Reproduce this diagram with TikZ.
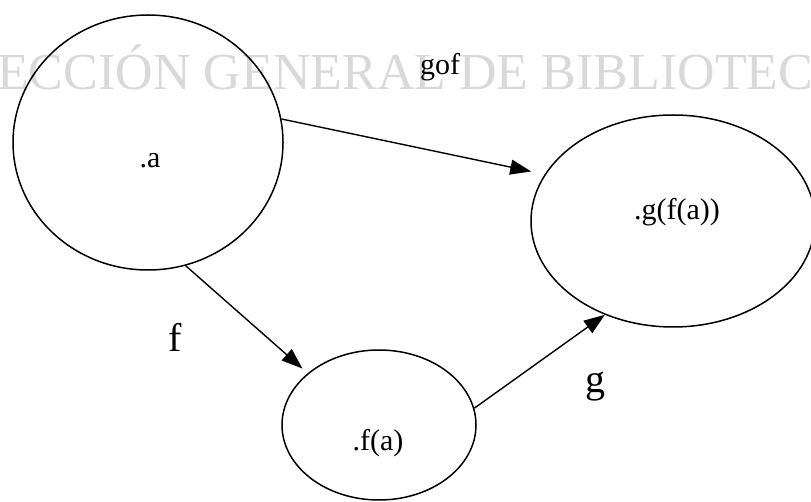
\documentclass[tikz,border=0pt]{standalone}
\usepackage{fontspec}
\setmainfont{Liberation Serif}
\usetikzlibrary{shapes.geometric,arrows.meta}
\definecolor{wmgray}{HTML}{D9D9D9}
\tikzset{
  setnode/.style={draw=black, line width=1.5pt, ellipse, inner sep=0pt},
  maparrow/.style={draw=black, line width=1.4pt, -{Triangle[length=21pt,width=15pt]}},
  elemlabel/.style={anchor=base, inner sep=0pt, font=\fontsize{30}{30}\selectfont},
  funclabel/.style={anchor=base, inner sep=0pt, font=\fontsize{40}{40}\selectfont},
  watermark/.style={anchor=base west, inner sep=0pt, text=wmgray, font=\fontsize{52}{52}\selectfont}
}
\begin{document}
\begin{tikzpicture}[x=1pt, y=-1pt]
\useasboundingbox (0,0) rectangle (811,502);
\fill[white] (0,0) rectangle (811,502);
% watermark
\node[watermark] (wm) at (-3,90) {ECCIÓN GENERAL DE BIBLIOTEC};
% sets
\node[setnode, minimum width=270pt, minimum height=255pt] (a) at (148,142.5) {};
\node[setnode, minimum width=284pt, minimum height=212pt] (gfa) at (673,221) {};
\node[setnode, minimum width=194pt, minimum height=150pt] (fa) at (379,425) {};
% element labels
\node[elemlabel] (la) at (150,168) {.a};
\node[elemlabel] (lgfa) at (677,220) {.g(f(a))};
\node[elemlabel] (lfa) at (378,450) {.f(a)};
% arrows
\draw[maparrow, shorten >=13.7pt] (a.10.7) -- (gfa.160.7);
\draw[maparrow, shorten >=7pt] (a.-73) -- (fa.144.8);
\draw[maparrow] (fa.10.8) -- (gfa.234);
% function labels
\node[elemlabel] (lgof) at (440,75) {gof};
\node[funclabel] (lf) at (175,352) {f};
\node[funclabel] (lg) at (595,392) {g};
\end{tikzpicture}
\end{document}
